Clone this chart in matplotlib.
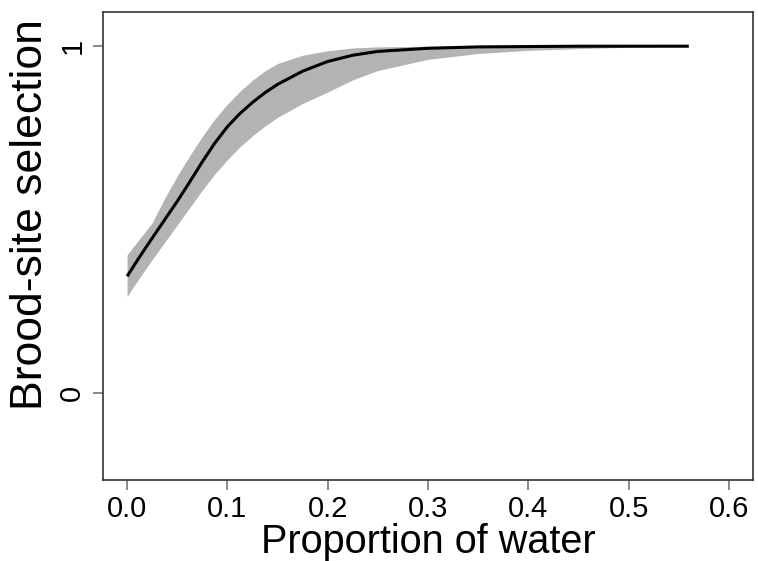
import matplotlib
matplotlib.use("Agg")
import matplotlib.pyplot as plt

plt.rcParams['font.family'] = ['Liberation Sans', 'DejaVu Sans']

water = [0.0, 0.0125, 0.025, 0.0375, 0.05, 0.0625, 0.075, 0.0875, 0.1, 0.1125, 0.125, 0.1375,
         0.15, 0.175, 0.2, 0.225, 0.25, 0.3, 0.35, 0.4, 0.45, 0.5, 0.56]
fit = [0.337, 0.393, 0.447, 0.500, 0.553, 0.609, 0.667, 0.721, 0.768, 0.806, 0.838, 0.866,
       0.890, 0.928, 0.956, 0.974, 0.985, 0.994, 0.998, 0.999, 1.0, 1.0, 1.0]
upper = [0.399, 0.445, 0.491, 0.562, 0.626, 0.685, 0.740, 0.790, 0.833, 0.870, 0.902, 0.929,
         0.950, 0.974, 0.987, 0.995, 0.998, 1.0, 1.0, 1.0, 1.0, 1.0, 1.0]
lower = [0.279, 0.333, 0.385, 0.435, 0.485, 0.535, 0.585, 0.632, 0.673, 0.710, 0.742, 0.770,
         0.795, 0.835, 0.868, 0.903, 0.930, 0.962, 0.979, 0.988, 0.993, 0.997, 1.0]

xticks = [0.0, 0.1, 0.2, 0.3, 0.4, 0.5, 0.6]
xticklabels = ['0.0', '0.1', '0.2', '0.3', '0.4', '0.5', '0.6']
yticks = [0, 1]
yticklabels = ['0', '1']

fig = plt.figure(figsize=(7.58, 5.61), dpi=100)
ax = fig.add_axes([103/758, 1-480/561, 650/758, (480-11.5)/561])

ax.fill_between(water, lower, upper, color='#B3B3B3', linewidth=0)
ax.plot(water, fit, color='black', linewidth=2.2, solid_capstyle='butt')

ax.set_xlim(-0.024, 0.624)
ax.set_ylim(-0.25, 1.1)
ax.set_xticks(xticks)
ax.set_xticklabels(xticklabels, fontsize=21)
ax.set_yticks(yticks)
ax.set_yticklabels(yticklabels, fontsize=21, rotation=90, va='center')
ax.tick_params(axis='both', length=7, width=1.2, color='#777777')
ax.tick_params(axis='x', pad=4)
ax.tick_params(axis='y', pad=5)
for s in ax.spines.values():
    s.set_color('#333333')
    s.set_linewidth(1.2)

ax.set_xlabel('Proportion of water', fontsize=28.5, labelpad=0)
ax.text(-0.112, 0.566, 'Brood-site selection', transform=ax.transAxes,
        rotation=90, ha='center', va='center', fontsize=32)

fig.savefig('out.png', dpi=100)
